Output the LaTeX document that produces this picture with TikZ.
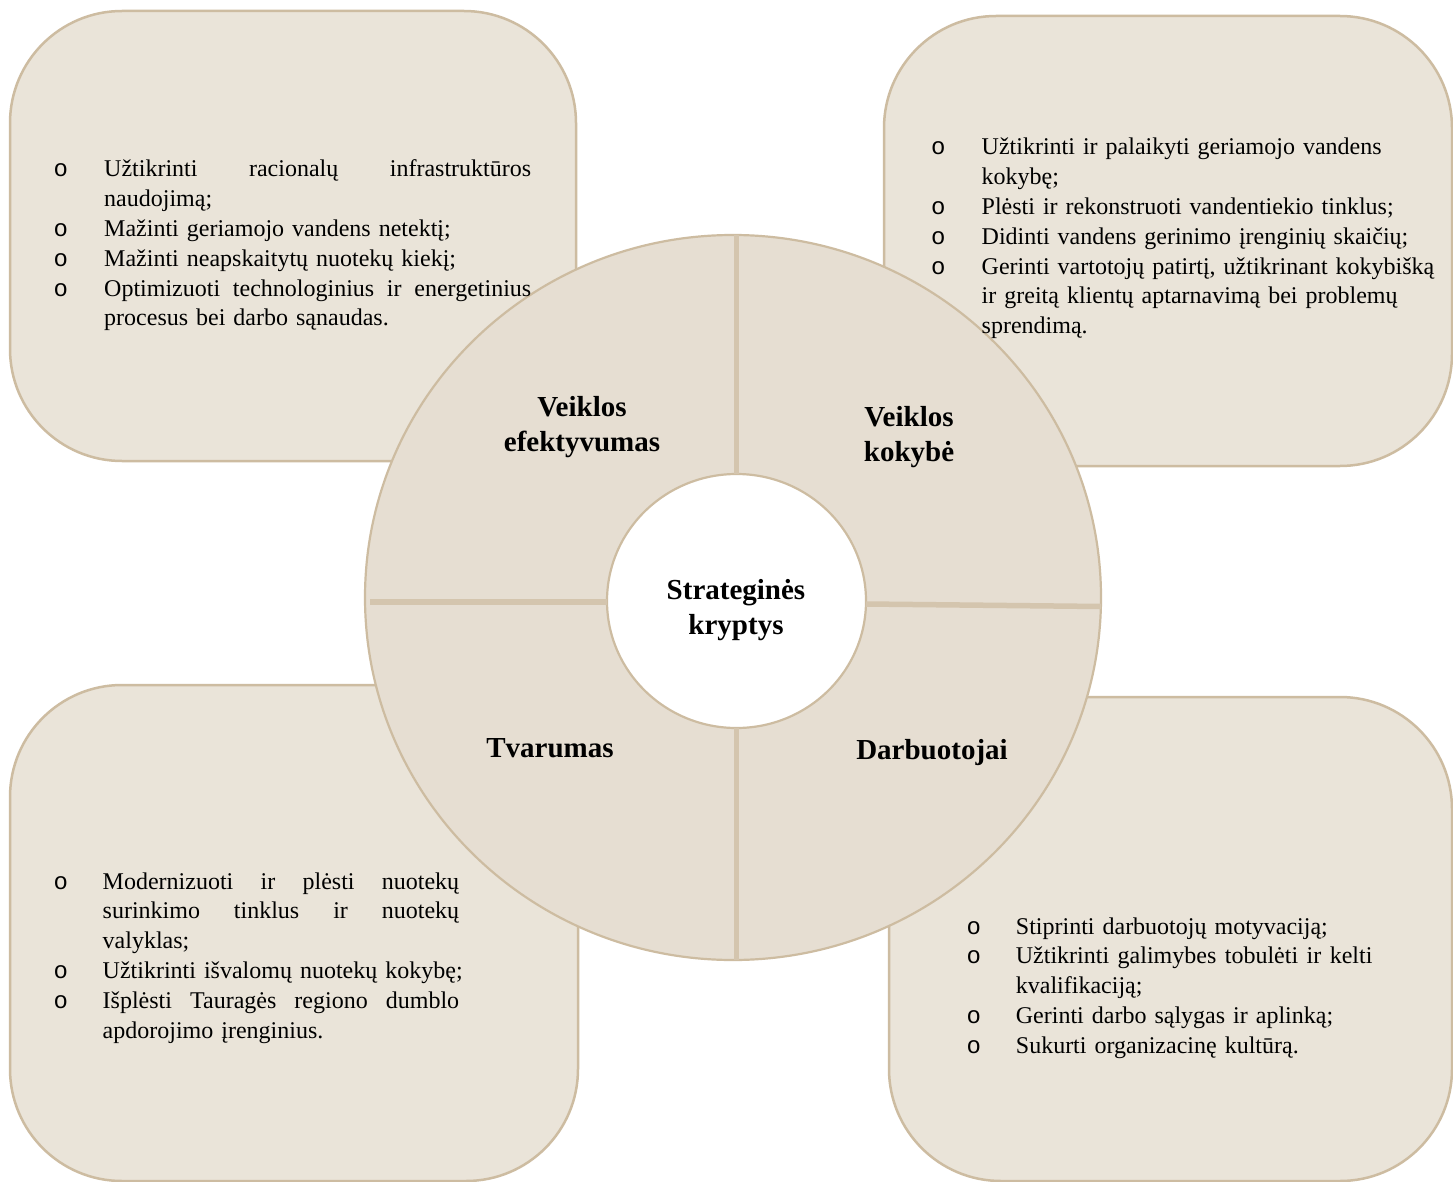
\documentclass[tikz,border=0pt]{standalone}
\usepackage{fontspec}
\setmainfont{Liberation Serif}
\newfontfamily\bulfont{Liberation Mono}
\usetikzlibrary{calc,shapes.geometric}
\definecolor{boxfill}{HTML}{EAE4D9}
\definecolor{ringfill}{HTML}{E6DED2}
\definecolor{tanline}{HTML}{CDBCA1}
\definecolor{divline}{HTML}{D4C5AE}
\newlength\mybulw \newlength\myjusw
\newcommand\Lb[1]{\hbox{\hbox to\mybulw{\bulfont o\hss}#1}\par}
\newcommand\Lbj[1]{\hbox{\hbox to\mybulw{\bulfont o\hss}\hbox to\myjusw{#1}}\par}
\newcommand\Lc[1]{\hbox{\hskip\mybulw\relax #1}\par}
\newcommand\Lcj[1]{\hbox{\hskip\mybulw\relax\hbox to\myjusw{#1}}\par}
\begin{document}
\begin{tikzpicture}[x=1pt,y=-1pt,
  box/.style={rectangle, draw=tanline, line width=2.5pt, fill=boxfill, rounded corners=112pt, inner sep=0, outer sep=0},
  disc/.style={ellipse, draw=tanline, line width=2.2pt, inner sep=0, outer sep=0},
  div/.style={draw=divline, line width=5.5pt},
  lab/.style={font=\fontsize{29}{35.5}\selectfont\bfseries, text width=320pt, align=center, anchor=base, inner sep=0},
  txt/.style={font=\fontsize{24}{29.8}\selectfont, anchor=base west, inner sep=0}]
\fill[white] (0,0) rectangle (1453,1182);
\useasboundingbox (0,0) rectangle (1453,1182);
% boxes
\node[box, minimum width=566pt, minimum height=450pt] (tl) at (293,236) {};
\node[box, minimum width=568pt, minimum height=450pt] (tr) at (1168,241) {};
\node[box, minimum width=568pt, minimum height=496pt] (bl) at (294,933) {};
\node[box, minimum width=563pt, minimum height=484pt] (br) at (1170.5,939) {};
% ring
\node[disc, fill=ringfill, minimum width=736pt, minimum height=725pt] (ring) at (733,597.5) {};
\node[disc, fill=white, minimum width=259pt, minimum height=254pt] (hub) at (736.5,601) {};
\draw[div] (hub.north) -- (hub.north |- ring.north);
\draw[div] (hub.south) -- (hub.south |- ring.south);
\draw[div] ($(hub.west)+(0,1)$) -- ($(ring.west)+(5,4.5)$);
\draw[div] ($(hub.east)+(0,3)$) -- ($(ring.east)+(0,9)$);
% labels
\node[lab] (l1) at (582,416) {Veiklos\\efektyvumas};
\node[lab] (l2) at (909,426) {Veiklos\\kokybė};
\node[lab] (l0) at (736,599) {Strateginės\\kryptys};
\node[lab] (l3) at (550,757) {Tvarumas};
\node[lab] (l4) at (932,759) {Darbuotojai};
% texts
\node[txt, text width=500pt] (ttl) at (53.5,177) {\setlength\mybulw{50.5pt}\setlength\myjusw{427pt}%
\Lbj{Užtikrinti \hfill racionalų \hfill infrastruktūros}%
\Lc{naudojimą;}%
\Lb{Mažinti geriamojo vandens netektį;}%
\Lb{Mažinti neapskaitytų nuotekų kiekį;}%
\Lbj{Optimizuoti \hfill technologinius \hfill ir \hfill energetinius}%
\Lc{procesus bei darbo sąnaudas.}};
\node[txt, text width=520pt] (ttr) at (931,155) {\setlength\mybulw{50.5pt}\setlength\myjusw{450pt}%
\Lb{Užtikrinti ir palaikyti geriamojo vandens}%
\Lc{kokybę;}%
\Lb{Plėsti ir rekonstruoti vandentiekio tinklus;}%
\Lb{Didinti vandens gerinimo įrenginių skaičių;}%
\Lb{Gerinti vartotojų patirtį, užtikrinant kokybišką}%
\Lc{ir greitą klientų aptarnavimą bei problemų}%
\Lc{sprendimą.}};
\node[txt, text width=450pt] (tbl) at (53.5,889) {\setlength\mybulw{49pt}\setlength\myjusw{356.5pt}%
\Lbj{Modernizuoti \hfill ir \hfill plėsti \hfill nuotekų}%
\Lcj{surinkimo \hfill tinklus \hfill ir \hfill nuotekų}%
\Lc{valyklas;}%
\Lb{Užtikrinti išvalomų nuotekų kokybę;}%
\Lbj{Išplėsti \hfill Tauragės \hfill regiono \hfill dumblo}%
\Lc{apdorojimo įrenginius.}};
\node[txt, text width=450pt] (tbr) at (966.5,934) {\setlength\mybulw{49.2pt}\setlength\myjusw{356.5pt}%
\Lb{Stiprinti darbuotojų motyvaciją;}%
\Lbj{Užtikrinti \hfill galimybes \hfill tobulėti \hfill ir \hfill kelti}%
\Lc{kvalifikaciją;}%
\Lb{Gerinti darbo sąlygas ir aplinką;}%
\Lb{Sukurti organizacinę kultūrą.}};
\end{tikzpicture}
\end{document}
